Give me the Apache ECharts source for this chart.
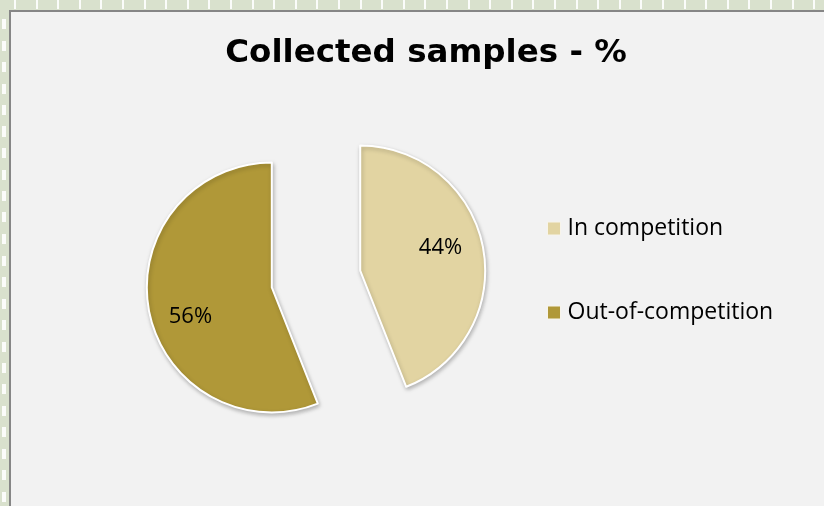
<!DOCTYPE html>
<html>
<head>
<meta charset="utf-8">
<script src="https://cdn.jsdelivr.net/npm/echarts@6/dist/echarts.min.js"></script>
<style>
  html, body { margin: 0; padding: 0; }
  body { width: 824px; height: 506px; position: relative; overflow: hidden; background: #d9e1cd; }
  /* dashed frame bands */
  #bandTop { position: absolute; left: 0; top: 0; width: 824px; height: 9px;
    background: repeating-linear-gradient(90deg, transparent 0 14px, rgba(255,255,255,0.9) 14px 16px, transparent 16px 21.6px); }
  #bandLeft { position: absolute; left: 2px; top: 9px; width: 4px; height: 497px;
    background: repeating-linear-gradient(180deg, transparent 0 10px, rgba(255,255,255,0.9) 10px 20px, transparent 20px 21.5px); }
  #panel { position: absolute; left: 9px; top: 10px; right: 0; bottom: 0;
    background: #f2f2f2; border-left: 2px solid #868686; border-top: 2px solid #868686; }
  #chart { position: absolute; left: 0; top: 0; width: 824px; height: 506px; }
</style>
</head>
<body>
<div id="bandTop"></div>
<div id="bandLeft"></div>
<div id="panel"></div>
<div id="chart"></div>
<script>
// Share of collected samples by type
const categories = ['In competition', 'Out-of-competition'];
const shares = [44, 56];
const colors = ['#e2d4a2', '#b09838'];
// per-slice label nudges (px) to sit the percentages further out in each slice
const labelNudge = [[16, -11], [-17, 17]];

const chart = echarts.init(document.getElementById('chart'), null, { renderer: 'canvas' });

chart.setOption({
  backgroundColor: 'transparent',
  animation: false,
  title: {
    text: 'Collected samples - %',
    left: 421,
    top: 32,
    textAlign: 'center',
    textStyle: { fontFamily: 'DejaVu Sans', fontWeight: 'bold', fontSize: 32.5, color: '#000' }
  },
  legend: {
    orient: 'vertical',
    left: 542,
    top: 212,
    itemWidth: 13,
    itemHeight: 13,
    itemGap: 61,
    icon: 'rect',
    itemStyle: { borderWidth: 1, borderColor: '#f7f4ea' },
    textStyle: { fontFamily: 'Open Sans', fontSize: 23, color: '#000', padding: [0, 0, 0, 2] },
    selectedMode: false,
    data: categories
  },
  series: [{
    type: 'pie',
    center: [316, 279],
    radius: 125,
    startAngle: 90,
    clockwise: true,
    selectedMode: 'multiple',
    selectedOffset: 45,
    label: {
      show: true,
      position: 'inside',
      formatter: '{c}%',
      fontFamily: 'Open Sans',
      fontSize: 22,
      color: '#000'
    },
    labelLine: { show: false },
    labelLayout: function (p) {
      const n = labelNudge[p.dataIndex];
      return { dx: n[0], dy: n[1] };
    },
    itemStyle: {
      borderColor: '#ffffff',
      borderWidth: 2,
      shadowBlur: 4,
      shadowOffsetX: 1,
      shadowOffsetY: 2,
      shadowColor: 'rgba(0,0,0,0.25)'
    },
    emphasis: { disabled: true },
    data: categories.map((name, i) => ({
      name: name,
      value: shares[i],
      selected: true,
      itemStyle: { color: colors[i] }
    }))
  }]
});
</script>
</body>
</html>
